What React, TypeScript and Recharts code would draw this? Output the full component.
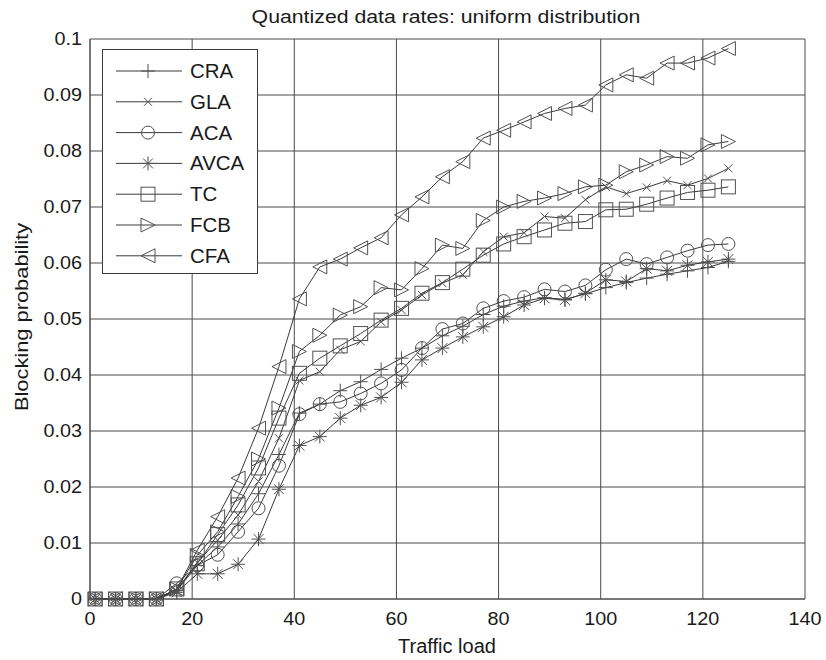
import React from 'react';
import { LineChart, Line, XAxis, YAxis, CartesianGrid } from 'recharts';

const FONT = '"Liberation Sans", Arial, Helvetica, sans-serif';

// traffic load (x) for each sample
const loads = [1, 5, 9, 13, 17, 21, 25, 29, 33, 37, 41, 45, 49, 53, 57, 61, 65, 69, 73, 77, 81, 85, 89, 93, 97, 101, 105, 109, 113, 117, 121, 125];

// blocking probability per scheme
const cra = [0, 0, 0, 0, 0.0015, 0.006, 0.0093, 0.0134, 0.0188, 0.0258, 0.0332, 0.0348, 0.0372, 0.0388, 0.041, 0.043, 0.0448, 0.047, 0.0487, 0.0508, 0.0523, 0.0532, 0.0538, 0.0535, 0.0545, 0.0556, 0.0565, 0.0573, 0.058, 0.0586, 0.0592, 0.0603];
const gla = [0, 0, 0, 0, 0.0015, 0.0065, 0.0105, 0.015, 0.021, 0.0287, 0.039, 0.0406, 0.0445, 0.046, 0.0495, 0.0516, 0.0543, 0.0564, 0.0579, 0.062, 0.0647, 0.0654, 0.0683, 0.068, 0.0713, 0.0736, 0.0724, 0.0735, 0.0747, 0.0739, 0.0751, 0.0769];
const aca = [0, 0, 0, 0, 0.0028, 0.006, 0.0079, 0.012, 0.0162, 0.0238, 0.033, 0.0348, 0.0352, 0.0367, 0.0385, 0.0409, 0.0448, 0.0482, 0.0492, 0.0519, 0.0532, 0.0539, 0.0553, 0.0549, 0.056, 0.0588, 0.0607, 0.0598, 0.061, 0.0622, 0.0632, 0.0634];
const avca = [0, 0, 0, 0, 0.0012, 0.0045, 0.0045, 0.0062, 0.0107, 0.0196, 0.0274, 0.029, 0.0323, 0.0346, 0.036, 0.0387, 0.0427, 0.0448, 0.0468, 0.0486, 0.0504, 0.0525, 0.0537, 0.0534, 0.0546, 0.057, 0.0567, 0.059, 0.0586, 0.0596, 0.0602, 0.0607];
const tc = [0, 0, 0, 0, 0.0018, 0.0063, 0.0115, 0.0168, 0.0234, 0.0323, 0.0403, 0.043, 0.0452, 0.0474, 0.0498, 0.0519, 0.0546, 0.0565, 0.0589, 0.0614, 0.0634, 0.0647, 0.0659, 0.0671, 0.0674, 0.0695, 0.0696, 0.0705, 0.0716, 0.0726, 0.073, 0.0736];
const fcb = [0, 0, 0, 0, 0.0018, 0.0078, 0.012, 0.0183, 0.025, 0.0341, 0.0442, 0.0471, 0.0507, 0.0522, 0.0556, 0.0552, 0.059, 0.0632, 0.0626, 0.0676, 0.07, 0.071, 0.0716, 0.0724, 0.0736, 0.0739, 0.0763, 0.0775, 0.079, 0.0787, 0.0811, 0.0817];
const cfa = [0, 0, 0, 0, 0.0018, 0.0087, 0.0147, 0.0216, 0.0305, 0.0415, 0.0536, 0.0593, 0.0607, 0.0627, 0.0645, 0.0686, 0.0718, 0.0754, 0.0781, 0.0823, 0.0837, 0.0852, 0.0867, 0.0876, 0.0882, 0.0918, 0.0936, 0.093, 0.0957, 0.0957, 0.0966, 0.0983];

const xTicks = [0, 20, 40, 60, 80, 100, 120, 140];
const yTicks = [0, 0.01, 0.02, 0.03, 0.04, 0.05, 0.06, 0.07, 0.08, 0.09, 0.1];
const yTickLabels = ['0', '0.01', '0.02', '0.03', '0.04', '0.05', '0.06', '0.07', '0.08', '0.09', '0.1'];

const series = [
  { key: 'CRA', values: cra, shape: 'plus' },
  { key: 'GLA', values: gla, shape: 'x' },
  { key: 'ACA', values: aca, shape: 'circle' },
  { key: 'AVCA', values: avca, shape: 'star' },
  { key: 'TC', values: tc, shape: 'square' },
  { key: 'FCB', values: fcb, shape: 'tright' },
  { key: 'CFA', values: cfa, shape: 'tleft' },
];

const data = loads.map((x, i) => {
  const row: any = { x };
  series.forEach((s) => { row[s.key] = s.values[i]; });
  return row;
});

const LINE = '#3a3a3a';
const MARK = '#505050';

function Marker({ shape, cx, cy }: { shape: string; cx: number; cy: number }) {
  const common = { stroke: MARK, fill: 'none', strokeWidth: 1 };
  switch (shape) {
    case 'plus':
      return <path d={`M${cx - 7},${cy}H${cx + 7}M${cx},${cy - 7}V${cy + 7}`} {...common} />;
    case 'x':
      return <path d={`M${cx - 4},${cy - 4}L${cx + 4},${cy + 4}M${cx - 4},${cy + 4}L${cx + 4},${cy - 4}`} {...common} />;
    case 'circle':
      return <circle cx={cx} cy={cy} r={6.5} {...common} />;
    case 'star':
      return (
        <path
          d={`M${cx - 7},${cy}H${cx + 7}M${cx},${cy - 7}V${cy + 7}M${cx - 5},${cy - 5}L${cx + 5},${cy + 5}M${cx - 5},${cy + 5}L${cx + 5},${cy - 5}`}
          {...common}
        />
      );
    case 'square':
      return <rect x={cx - 7} y={cy - 7} width={14} height={14} {...common} />;
    case 'tright':
      return <path d={`M${cx - 7},${cy - 7}L${cx + 7},${cy}L${cx - 7},${cy + 7}Z`} {...common} />;
    case 'tleft':
      return <path d={`M${cx + 7},${cy - 7}L${cx - 7},${cy}L${cx + 7},${cy + 7}Z`} {...common} />;
    default:
      return null;
  }
}

function XTick(props: any) {
  const { x, y, payload } = props;
  return (
    <text
      transform={`translate(${x},${y}) scale(1.1,1)`}
      textAnchor="middle"
      dy="0.71em"
      fontSize={18}
      fontFamily={FONT}
      fill="#1a1a1a"
    >
      {payload.value}
    </text>
  );
}

function YTick(props: any) {
  const { x, y, payload } = props;
  return (
    <text
      transform={`translate(${x},${y}) scale(1.1,1)`}
      textAnchor="end"
      dy="0.355em"
      fontSize={18}
      fontFamily={FONT}
      fill="#1a1a1a"
    >
      {yTickLabels[yTicks.indexOf(payload.value)]}
    </text>
  );
}

export default function App() {
  return (
    <div style={{ position: 'absolute', left: 0, top: 0, width: 826, height: 660, background: '#fff' }}>
      <LineChart width={826} height={660} data={data} margin={{ top: 39, right: 21, bottom: 31, left: 30 }}>
        <CartesianGrid stroke="#4a4a4a" strokeWidth={1} />
        <XAxis
          type="number"
          dataKey="x"
          domain={[0, 140]}
          ticks={xTicks}
          height={30}
          tickLine={false}
          tickSize={0}
          tickMargin={13}
          axisLine={{ stroke: '#4a4a4a' }}
          tick={<XTick />}
        />
        <YAxis
          type="number"
          domain={[0, 0.1]}
          ticks={yTicks}
          width={60}
          tickLine={false}
          tickSize={0}
          tickMargin={8}
          axisLine={{ stroke: '#4a4a4a' }}
          tick={<YTick />}
        />
        {series.map((s) => (
          <Line
            key={s.key}
            dataKey={s.key}
            type="linear"
            stroke={LINE}
            strokeWidth={1}
            isAnimationActive={false}
            dot={(p: any) => <Marker key={`${s.key}-${p.index}`} shape={s.shape} cx={p.cx} cy={p.cy} />}
            activeDot={false}
          />
        ))}
      </LineChart>

      <svg width={826} height={660} style={{ position: 'absolute', left: 0, top: 0, pointerEvents: 'none' }}>
        <text transform="translate(446,23) scale(1.15,1)" textAnchor="middle" fontSize={18.5} fontFamily={FONT} fill="#1a1a1a">
          Quantized data rates: uniform distribution
        </text>
        <text transform="translate(27.5,317) rotate(-90) scale(1.15,1)" textAnchor="middle" fontSize={19} fontFamily={FONT} fill="#1a1a1a">
          Blocking probability
        </text>
        <text x={447} y={653} textAnchor="middle" fontSize={20} fontFamily={FONT} fill="#1a1a1a">
          Traffic load
        </text>

        {/* legend box */}
        <g transform="translate(102,49)">
          <rect x={0.5} y={0.5} width={155} height={224} fill="#fff" stroke="#3a3a3a" />
          {series.map((s, i) => {
            const cy = 22 + i * 30.8;
            return (
              <g key={s.key}>
                <line x1={14} x2={80} y1={cy} y2={cy} stroke={LINE} strokeWidth={1} />
                <Marker shape={s.shape} cx={46} cy={cy} />
                <text transform={`translate(88,${cy + 7}) scale(1.05,1)`} fontSize={19.5} fontFamily={FONT} fill="#1a1a1a">
                  {s.key}
                </text>
              </g>
            );
          })}
        </g>
      </svg>
    </div>
  );
}
